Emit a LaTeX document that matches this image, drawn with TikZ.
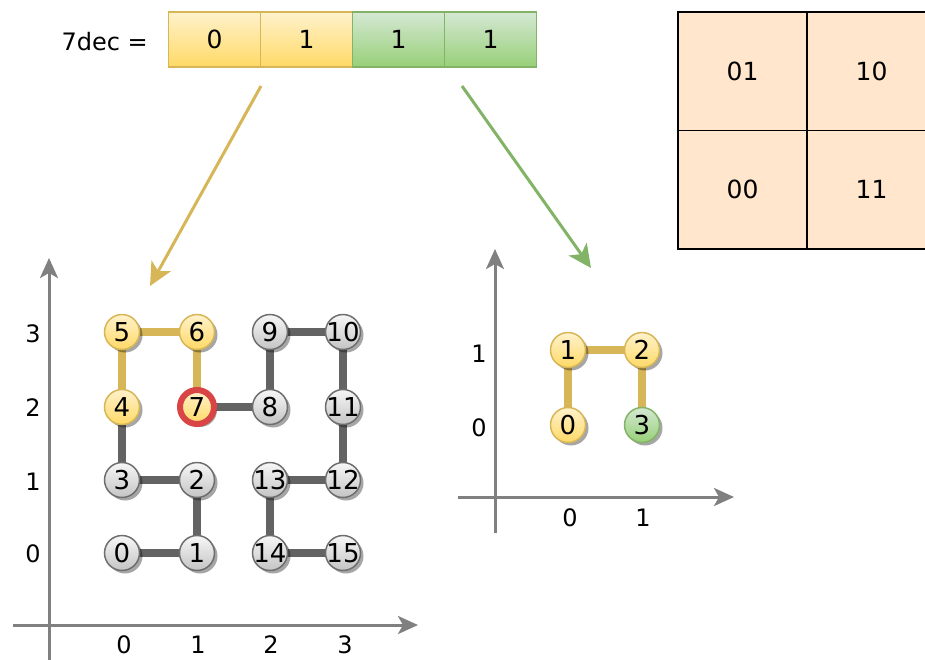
\documentclass[tikz,border=0pt]{standalone}
\usepackage{fontspec}
\setmainfont{DejaVu Sans}
\usetikzlibrary{arrows.meta,shadows,backgrounds}
\definecolor{ytop}{HTML}{FFF2CC}
\definecolor{ybot}{HTML}{FFD966}
\definecolor{ystroke}{HTML}{D6B656}
\definecolor{gtop}{HTML}{D5E8D4}
\definecolor{gbot}{HTML}{97D077}
\definecolor{gstroke}{HTML}{82B366}
\definecolor{ntop}{HTML}{F7F7F7}
\definecolor{nbot}{HTML}{C4C4C4}
\definecolor{nstroke}{HTML}{6E6E6E}
\definecolor{edgegray}{HTML}{636363}
\definecolor{axisgray}{HTML}{808080}
\definecolor{cellfill}{HTML}{FFE6CC}
\definecolor{redring}{HTML}{D94444}
\newcommand{\zw}[1]{\makebox[0pt]{#1}}
\tikzset{
  lbl/.style={font=\fontsize{24}{28}\selectfont, inner sep=0pt},
  nd/.style={circle, minimum size=35pt, inner sep=0pt, font=\fontsize{26}{30}\selectfont,
    drop shadow={shadow xshift=3pt, shadow yshift=-3pt, opacity=0.35, fill=black}},
  gnode/.style={nd, top color=ntop, bottom color=nbot, draw=nstroke, line width=1.5pt},
  ynode/.style={nd, top color=ytop, bottom color=ybot, draw=ystroke, line width=1.5pt},
  grnode/.style={nd, top color=gtop, bottom color=gbot, draw=gstroke, line width=1.5pt},
  rnode/.style={nd, top color=ytop, bottom color=ybot, draw=redring, line width=6pt, minimum size=34pt},
  gedge/.style={draw=edgegray, line width=8pt},
  yedge/.style={draw=ystroke, line width=8pt},
  axis/.style={draw=axisgray, line width=3pt, -{Stealth[length=20pt,width=18pt,inset=5pt]}},
  bitbox/.style={rectangle, minimum width=92pt, minimum height=55pt, inner sep=0pt,
    font=\fontsize{25}{29}\selectfont, line width=1.5pt},
  ybit/.style={bitbox, top color=ytop, bottom color=ybot, draw=ystroke},
  gbit/.style={bitbox, top color=gtop, bottom color=gbot, draw=gstroke},
  cell/.style={rectangle, minimum width=129pt, minimum height=118.5pt, inner sep=0pt,
    fill=cellfill, draw=black, line width=1.5pt, font=\fontsize{25}{29}\selectfont},
  bigarrow/.style={line width=3pt, -{Stealth[length=23pt,width=22pt,inset=6pt]}}
}
\begin{document}
\begin{tikzpicture}[x=1pt,y=-1pt]
\useasboundingbox (0,0) rectangle (925,659);

% top bar
\node[lbl, anchor=east] (dec) at (148,42) {7dec =};
\node[ybit] (b0) at (214.5,39.5) {0};
\node[ybit] (b1) at (306.5,39.5) {1};
\node[gbit] (b2) at (398.5,39.5) {1};
\node[gbit] (b3) at (490.5,39.5) {1};

% quadrant grid
\node[cell] (q01) at (742.5,71) {\raisebox{-4pt}{01}};
\node[cell] (q10) at (871.5,71) {\raisebox{-4pt}{10}};
\node[cell] (q00) at (742.5,189.5) {\raisebox{-3pt}{00}};
\node[cell] (q11) at (871.5,189.5) {\raisebox{-3pt}{11}};

% big arrows
\coordinate (ys) at (261,86);
\coordinate (ye) at (150,286);
\coordinate (gs) at (462,86);
\coordinate (ge) at (591,268);
\draw[bigarrow, draw=ystroke, fill=ystroke] (ys) -- (ye);
\draw[bigarrow, draw=gstroke, fill=gstroke] (gs) -- (ge);

% left axes
\coordinate (lv0) at (49,668);
\coordinate (lv1) at (49,258);
\coordinate (lh0) at (13,625);
\coordinate (lh1) at (418,625);
\draw[axis, fill=axisgray] (lv0) -- (lv1);
\draw[axis, fill=axisgray] (lh0) -- (lh1);
\node[lbl] (ly3) at (33,334) {3};
\node[lbl] (ly2) at (33,408) {2};
\node[lbl] (ly1) at (33,482) {1};
\node[lbl] (ly0) at (33,554) {0};
\node[lbl] (lx0) at (124,645) {0};
\node[lbl] (lx1) at (198,645) {1};
\node[lbl] (lx2) at (271,645) {2};
\node[lbl] (lx3) at (345,645) {3};

% left grid nodes
\node[gnode] (n0) at (122,553) {\zw{0}};
\node[gnode] (n1) at (197,553) {\zw{1}};
\node[gnode] (n2) at (197,480) {\zw{2}};
\node[gnode] (n3) at (122,480) {\zw{3}};
\node[ynode] (n4) at (122,407) {\zw{4}};
\node[ynode] (n5) at (122,332) {\zw{5}};
\node[ynode] (n6) at (197,332) {\zw{6}};
\node[rnode] (n7) at (197,407) {\zw{7}};
\node[gnode] (n8) at (270,407) {\zw{8}};
\node[gnode] (n9) at (270,332) {\zw{9}};
\node[gnode] (n10) at (343,332) {\zw{10}};
\node[gnode] (n11) at (343,407) {\zw{11}};
\node[gnode] (n12) at (343,480) {\zw{12}};
\node[gnode] (n13) at (270,480) {\zw{13}};
\node[gnode] (n14) at (270,553) {\zw{14}};
\node[gnode] (n15) at (343,553) {\zw{15}};

% right axes
\coordinate (rv0) at (495,533);
\coordinate (rv1) at (495,249);
\coordinate (rh0) at (458,497);
\coordinate (rh1) at (734,497);
\draw[axis, fill=axisgray] (rv0) -- (rv1);
\draw[axis, fill=axisgray] (rh0) -- (rh1);
\node[lbl] (ry1) at (479,354) {1};
\node[lbl] (ry0) at (479,428) {0};
\node[lbl] (rx0) at (570,518) {0};
\node[lbl] (rx1) at (643,518) {1};

\node[ynode] (m0) at (568,425) {\zw{0}};
\node[ynode] (m1) at (568,350) {\zw{1}};
\node[ynode] (m2) at (642,350) {\zw{2}};
\node[grnode] (m3) at (642,425) {\zw{3}};

\begin{pgfonlayer}{background}
\draw[gedge] (n0.center) -- (n1.center);
\draw[gedge] (n1.center) -- (n2.center);
\draw[gedge] (n2.center) -- (n3.center);
\draw[gedge] (n3.center) -- (n4.center);
\draw[yedge] (n4.center) -- (n5.center);
\draw[yedge] (n5.center) -- (n6.center);
\draw[yedge] (n6.center) -- (n7.center);
\draw[gedge] (n7.center) -- (n8.center);
\draw[gedge] (n8.center) -- (n9.center);
\draw[gedge] (n9.center) -- (n10.center);
\draw[gedge] (n10.center) -- (n11.center);
\draw[gedge] (n11.center) -- (n12.center);
\draw[gedge] (n12.center) -- (n13.center);
\draw[gedge] (n13.center) -- (n14.center);
\draw[gedge] (n14.center) -- (n15.center);
\draw[yedge] (m0.center) -- (m1.center);
\draw[yedge] (m1.center) -- (m2.center);
\draw[yedge] (m2.center) -- (m3.center);
\end{pgfonlayer}
\end{tikzpicture}
\end{document}
